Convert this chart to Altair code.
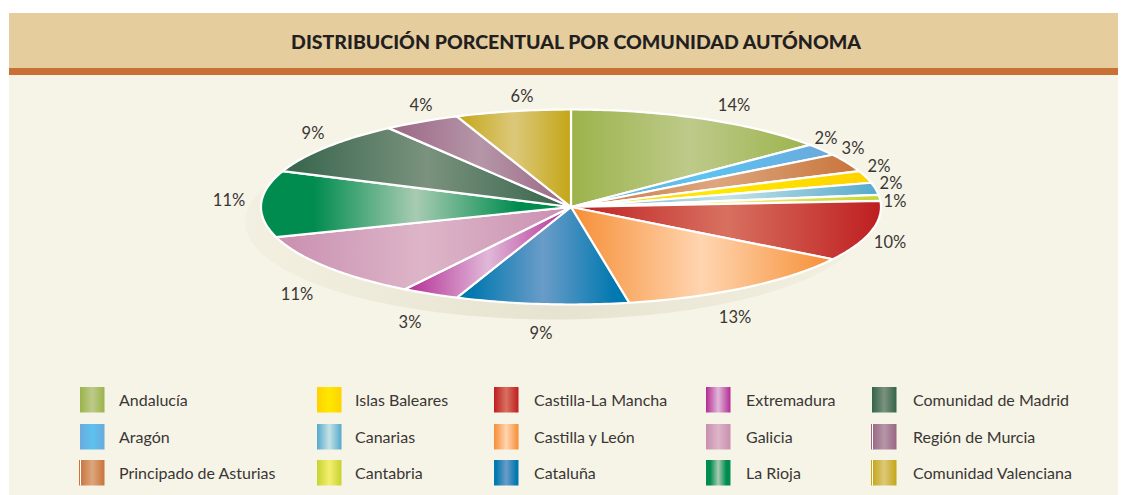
import math
import altair as alt
import pandas as pd

TITLE = "DISTRIBUCIÓN PORCENTUAL POR COMUNIDAD AUTÓNOMA"
regions = ["Andalucía", "Aragón", "Principado de Asturias", "Islas Baleares", "Canarias",
           "Cantabria", "Castilla-La Mancha", "Castilla y León", "Cataluña", "Extremadura",
           "Galicia", "La Rioja", "Comunidad de Madrid", "Región de Murcia", "Comunidad Valenciana"]
shares = [14, 2, 3, 2, 2, 1, 10, 13, 9, 3, 11, 11, 9, 4, 6]
edge_colors = ["#9CB34B", "#6BA9DC", "#C8743A", "#FFD100", "#55A9CC", "#C5D42E", "#BE1E20", "#F68E35",
               "#0078B0", "#B42B94", "#C98FB0", "#008C4E", "#35634A", "#9A6683", "#C4A616"]
mid_colors = ["#BDCA8A", "#5CC3F0", "#DDA67E", "#FFE800", "#C5E2E6", "#F5EE70", "#D87060", "#FFD5B0",
              "#6A9CC8", "#E0B8D8", "#DDB5C8", "#A8CBB2", "#7A927E", "#B596A8", "#DCC87A"]
# how far the edge colour holds before it starts to fade (share of the width)
edge_hold = [0, 0, 0, 0, 0, 0, 0, 0, 0.08, 0, 0, 0.17, 0, 0, 0]
# legend swatches printed with a hairline split off their left side
split_swatch = {"Principado de Asturias", "Región de Murcia", "Comunidad Valenciana"}

# layout (page pixels)
CX, CY, RX, RY = 571, 207, 310, 97.5
label_x = [734, 826, 853, 879, 891, 895, 890, 735, 541, 410, 297, 229, 313, 421, 522]
label_y = [106, 139, 149, 167, 184, 202, 243, 318, 334, 323, 295, 201, 134, 106, 97]
swatch_x = [80, 317, 494, 706, 872]
text_x = [119, 355, 534, 746, 913]
row_top = [387, 424, 460]
FONT = "Lato, Roboto, sans-serif"
INK = "#3A3635"
TITLE_INK = "#231F20"
PANEL = "#F6F4E6"

X = alt.X("x:Q", scale=alt.Scale(domain=[8, 1118]), axis=None)
Y = alt.Y("y:Q", scale=alt.Scale(domain=[495, 8]), axis=None)


def grad(edge, mid, hold=0):
    offsets = [(0, edge), (0.5, mid), (1, edge)]
    if hold:
        offsets = [(0, edge), (hold, edge), (0.5, mid), (1 - hold, edge), (1, edge)]
    return alt.LinearGradient(gradient="linear", x1=0, y1=0, x2=1, y2=0, stops=[
        alt.GradientStop(offset=o, color=c) for o, c in offsets])


def rect(x0, x1, y0, y1, fill):
    df = pd.DataFrame({"x": [x0], "x2": [x1], "y": [y0], "y2": [y1]})
    return alt.Chart(df).mark_rect(fill=fill, strokeWidth=0).encode(
        x=X, x2="x2:Q", y=Y, y2="y2:Q")


def poly(points, **kw):
    df = pd.DataFrame(points, columns=["x", "y"])
    df["i"] = range(len(df))
    return alt.Chart(df).mark_line(**kw).encode(x=X, y=Y, order="i:Q")


def text(x, y, s, color=INK, **kw):
    df = pd.DataFrame({"x": [x], "y": [y], "s": [s]})
    return alt.Chart(df).mark_text(font=FONT, color=color, baseline="middle", **kw).encode(
        x=X, y=Y, text="s:N")


layers = [
    rect(9, 1118, 75, 495, PANEL),
    rect(9, 1118, 13, 68, "#E5CD9E"),
    rect(9, 1118, 68, 75, "#C87035"),
    text(576, 43, TITLE, color=TITLE_INK, fontSize=19.5, fontWeight=900, align="center"),
]

# shadow under the pie
n = 180
shadow = [(CX - 16 + RX * math.sin(2 * math.pi * k / n), CY + 15 + RY * math.cos(2 * math.pi * k / n))
          for k in range(n + 1)]
layers.append(poly(shadow, fill=grad("#F3F0E1", "#E6E3D0"), strokeOpacity=0))

# wedges
total = sum(shares)
cum = 0
for share, edge, mid, hold in zip(shares, edge_colors, mid_colors, edge_hold):
    t0 = 2 * math.pi * cum / total
    t1 = 2 * math.pi * (cum + share) / total
    cum += share
    steps = max(4, share * 4)
    pts = [(CX, CY)]
    for k in range(steps + 1):
        t = t0 + (t1 - t0) * k / steps
        pts.append((CX + RX * math.sin(t), CY - RY * math.cos(t)))
    pts.append((CX, CY))
    layers.append(poly(pts, fill=grad(edge, mid, hold), stroke="white", strokeWidth=2.2, strokeJoin="round"))

# percentage labels
for share, lx, ly in zip(shares, label_x, label_y):
    layers.append(text(lx, ly, f"{share}%", fontSize=16.5, align="center"))

# legend
for i, region in enumerate(regions):
    col, row = i // 3, i % 3
    top = row_top[row]
    x0 = swatch_x[col]
    layers.append(rect(x0, x0 + 24.5, top, top + 25.5, grad(edge_colors[i], mid_colors[i], edge_hold[i])))
    if region in split_swatch:
        layers.append(rect(x0 - 1, x0, top, top + 25.5, edge_colors[i]))
        layers.append(rect(x0, x0 + 1, top, top + 25.5, "white"))
    layers.append(text(text_x[col], top + 14, region, fontSize=16, align="left"))

chart = alt.layer(*layers).properties(width=1110, height=487, padding=0, background="white") \
    .configure_view(strokeWidth=0)
chart.save("out.html", embed_options={"renderer": "svg", "actions": False})
